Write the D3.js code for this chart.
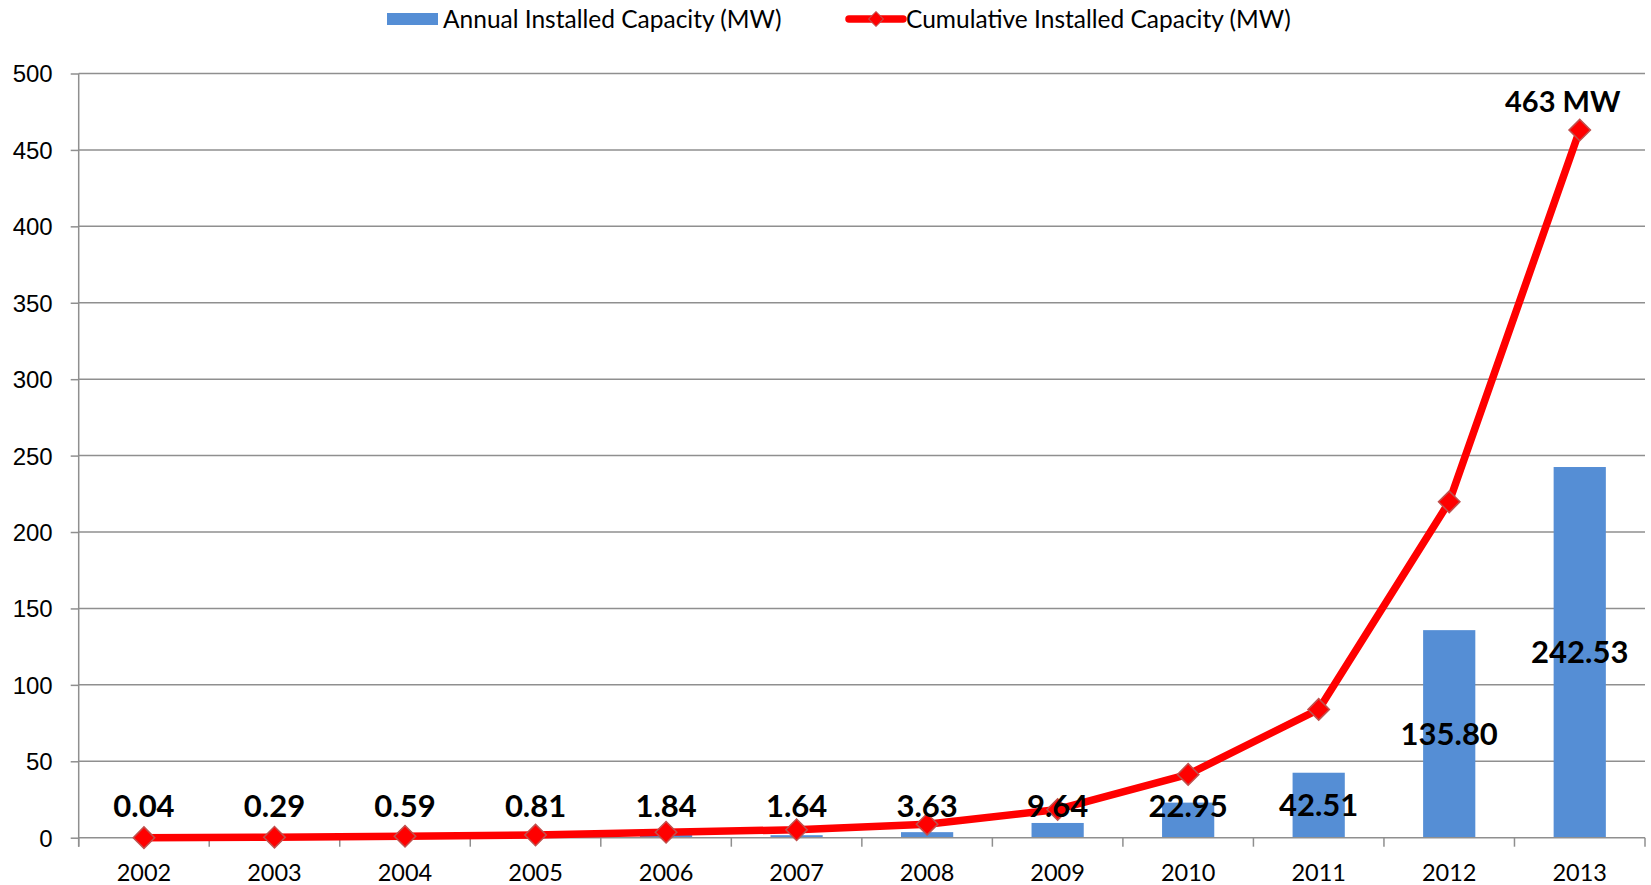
<!DOCTYPE html>
<html>
<head>
<meta charset="utf-8">
<script src="https://cdn.jsdelivr.net/npm/d3@7/dist/d3.min.js"></script>
<style>
  html, body { margin: 0; padding: 0; background: #ffffff; }
  svg { display: block; font-family: Lato, "Open Sans", sans-serif; }
</style>
</head>
<body>
<svg id="chart" width="1651" height="885"></svg>
<script>
// Solar PV installations by year
const years = ["2002","2003","2004","2005","2006","2007","2008","2009","2010","2011","2012","2013"];
const annualMW = [0.04, 0.29, 0.59, 0.81, 1.84, 1.64, 3.63, 9.64, 22.95, 42.51, 135.80, 242.53];
const cumulativeMW = [0.04, 0.33, 0.92, 1.73, 3.57, 5.21, 8.84, 18.48, 41.43, 83.94, 219.74, 463];
const yTicks = [0, 50, 100, 150, 200, 250, 300, 350, 400, 450, 500];
const seriesNames = ["Annual Installed Capacity (MW)", "Cumulative Installed Capacity (MW)"];
const totalLabel = "463 MW";

const barColor = "#558ED5";
const lineColor = "#FF0000";
const gridColor = "#8f8f8f";

const svg = d3.select("#chart");
const plotLeft = 78.7, plotRight = 1645, plotTop = 73.5, plotBottom = 837.7;

const x = d3.scaleBand().domain(years).range([plotLeft, plotRight]).paddingInner(0.6).paddingOuter(0.3);
const xEdge = d3.scaleLinear().domain([0, years.length]).range([plotLeft, plotRight]);
const y = d3.scaleLinear().domain([0, 500]).range([plotBottom, plotTop]);
const cx = d => x(d) + x.bandwidth() / 2;

// horizontal gridlines + left ticks
const yAxis = d3.axisLeft(y).tickValues(yTicks).tickSize(8).tickPadding(18).tickFormat(d3.format("d"));
const yg = svg.append("g").attr("transform", `translate(${plotLeft},0)`).call(yAxis);
yg.select(".domain").remove();
yg.selectAll(".tick line").attr("stroke", gridColor).attr("stroke-width", 1.5);
yg.selectAll(".tick text").attr("font-size", 24).attr("fill", "#000").attr("dy", "0.35em");

svg.append("g").selectAll("line").data(yTicks.filter(d => d > 0)).join("line")
  .attr("x1", plotLeft).attr("x2", plotRight)
  .attr("y1", d => y(d)).attr("y2", d => y(d))
  .attr("stroke", gridColor).attr("stroke-width", 1.5);

// vertical axis line
svg.append("line").attr("x1", plotLeft).attr("x2", plotLeft).attr("y1", plotTop).attr("y2", plotBottom + 9)
  .attr("stroke", gridColor).attr("stroke-width", 1.5);

// bars
svg.append("g").selectAll("rect").data(years).join("rect")
  .attr("x", d => x(d))
  .attr("width", x.bandwidth())
  .attr("y", (d, i) => y(annualMW[i]))
  .attr("height", (d, i) => y(0) - y(annualMW[i]))
  .attr("fill", barColor);

// category axis with tick marks between categories
svg.append("line").attr("x1", plotLeft).attr("x2", plotRight).attr("y1", plotBottom).attr("y2", plotBottom)
  .attr("stroke", gridColor).attr("stroke-width", 1.5);
svg.append("g").selectAll("line").data(d3.range(years.length + 1)).join("line")
  .attr("x1", i => xEdge(i)).attr("x2", i => xEdge(i))
  .attr("y1", plotBottom).attr("y2", plotBottom + 9)
  .attr("stroke", gridColor).attr("stroke-width", 1.5);
svg.append("g").selectAll("text").data(years).join("text")
  .attr("x", d => cx(d)).attr("y", 873).attr("dy", "0.35em")
  .attr("text-anchor", "middle").attr("font-size", 23.5).attr("fill", "#000")
  .text(d => d);

// cumulative line
const line = d3.line().x((d, i) => cx(years[i])).y(d => y(d));
svg.append("path").datum(cumulativeMW)
  .attr("d", line).attr("fill", "none")
  .attr("stroke", lineColor).attr("stroke-width", 7.5).attr("stroke-linejoin", "round");

// diamond markers
svg.append("g").selectAll("path").data(cumulativeMW).join("path")
  .attr("transform", (d, i) => `translate(${cx(years[i])},${y(d)}) rotate(45)`)
  .attr("d", d3.symbol().type(d3.symbolSquare).size(230)())
  .attr("fill", lineColor).attr("stroke", "#C0504D").attr("stroke-width", 1.5);

// value labels for annual bars
svg.append("g").selectAll("text").data(years).join("text")
  .attr("x", d => cx(d))
  .attr("y", (d, i) => y(Math.max(annualMW[i] / 2, 20.5)))
  .attr("dy", "0.35em")
  .attr("text-anchor", "middle").attr("font-size", 31).attr("font-weight", "bold").attr("fill", "#000")
  .text((d, i) => annualMW[i].toFixed(2));

// total label above last point
const last = years.length - 1;
svg.append("text")
  .attr("x", cx(years[last]) - 17).attr("y", y(cumulativeMW[last]) - 28).attr("dy", "0.35em")
  .attr("text-anchor", "middle").attr("font-size", 29).attr("font-weight", "bold").attr("fill", "#000")
  .text(totalLabel);

// legend
const lg = svg.append("g");
lg.append("rect").attr("x", 387).attr("y", 13).attr("width", 51).attr("height", 12).attr("fill", barColor);
lg.append("text").attr("x", 443).attr("y", 19).attr("dy", "0.35em").attr("font-size", 24.5).attr("fill", "#000").text(seriesNames[0]);
lg.append("line").attr("x1", 849).attr("x2", 903).attr("y1", 19).attr("y2", 19)
  .attr("stroke", lineColor).attr("stroke-width", 7.5).attr("stroke-linecap", "round");
lg.append("path").attr("transform", "translate(876,19) rotate(45)")
  .attr("d", d3.symbol().type(d3.symbolSquare).size(110)())
  .attr("fill", lineColor).attr("stroke", "#C0504D").attr("stroke-width", 1);
lg.append("text").attr("x", 906).attr("y", 19).attr("dy", "0.35em").attr("font-size", 24.5).attr("fill", "#000").text(seriesNames[1]);
</script>
</body>
</html>
